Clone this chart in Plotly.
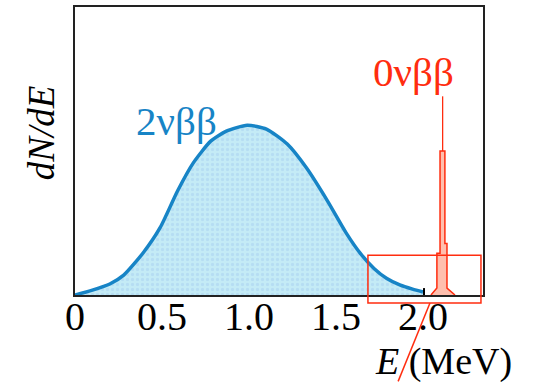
import plotly.graph_objects as go

# 2vbb continuous spectrum (E in MeV, dN/dE normalised to peak = 1)
e_2v = [0.0, 0.10, 0.20, 0.28, 0.39, 0.49, 0.59, 0.68, 0.78, 0.87, 0.99, 1.10, 1.22,
        1.33, 1.45, 1.56, 1.64, 1.72, 1.79, 1.87, 1.94, 2.00]
n_2v = [0.0, 0.029, 0.065, 0.117, 0.246, 0.398, 0.614, 0.778, 0.906, 0.965, 1.0, 0.977,
        0.889, 0.749, 0.556, 0.363, 0.245, 0.155, 0.099, 0.058, 0.035, 0.018]

# 0vbb peak outline
e_0v = [2.046, 2.063, 2.080, 2.080, 2.098, 2.098, 2.126, 2.126, 2.138, 2.138,
        2.161, 2.184]
n_0v = [0.0, 0.018, 0.041, 0.246, 0.246, 0.848, 0.848, 0.304, 0.304, 0.041,
        0.018, 0.0]
# thin spike on top of peak
e_spike = [2.113, 2.113]
n_spike = [0.848, 1.170]

q_value = 2.006
tick_vals = [0, 0.5, 1.0, 1.5, 2.0]
tick_text = ["0", "0.5", "1.0", "1.5", "2.0"]

BLUE = "#1784c6"
RED = "#ff2d0f"
SERIF = "Liberation Serif"

fig = go.Figure()
fig.add_trace(go.Scatter(
    x=e_2v, y=n_2v, mode="lines", line=dict(color=BLUE, width=3.5, shape="spline", smoothing=0.6),
    fill="tozeroy", fillcolor="#c4e9f6",
    fillpattern=dict(shape=".", bgcolor="#c4ebf6", fgcolor="#a8d0f0", size=5, solidity=0.35),
    hoverinfo="skip", showlegend=False))
fig.add_trace(go.Scatter(
    x=e_0v, y=n_0v, mode="lines", line=dict(color=RED, width=1.5),
    fill="toself", fillcolor="#ffbfae", hoverinfo="skip", showlegend=False))
fig.add_trace(go.Scatter(
    x=e_spike, y=n_spike, mode="lines", line=dict(color=RED, width=1.3),
    hoverinfo="skip", showlegend=False))

fig.add_annotation(x=0.586, y=1.023, text="2νββ", showarrow=False, xanchor="center", yanchor="middle",
                   font=dict(family=SERIF, size=41, color=BLUE))
fig.add_annotation(x=1.948, y=1.316, text="0νββ", showarrow=False, xanchor="center", yanchor="middle",
                   font=dict(family=SERIF, size=41, color=RED))
fig.add_annotation(x=-0.083, y=0.562, xref="paper", yref="paper", text="<i>dN/dE</i>",
                   textangle=-90, showarrow=False, xanchor="center", yanchor="middle",
                   font=dict(family=SERIF, size=37, color="black"))
fig.add_annotation(x=0.902, y=-0.232, xref="paper", yref="paper", text="<i>E</i> (MeV)",
                   showarrow=False, xanchor="center", yanchor="middle",
                   font=dict(family=SERIF, size=38, color="black"))

# Q-value tick
fig.add_shape(type="line", x0=q_value, x1=q_value, xref="x", y0=0, y1=0.024, yref="paper",
              line=dict(color="black", width=2))
# zoom box + pointer line
fig.add_shape(type="rect", xref="paper", yref="paper", x0=0.718, x1=0.995, y0=-0.0276, y1=0.138,
              line=dict(color=RED, width=1.5))
fig.add_shape(type="line", xref="paper", yref="paper", x0=0.870, y0=-0.0276, x1=0.792, y1=-0.30,
              line=dict(color=RED, width=1.5))

fig.update_layout(
    width=536, height=382, margin=dict(l=75, r=53, t=5, b=87),
    plot_bgcolor="white", paper_bgcolor="white",
    xaxis=dict(range=[0, 2.345], tickvals=tick_vals, ticktext=tick_text, showgrid=False,
               zeroline=False, showline=True, mirror=True, linecolor="#222", linewidth=2,
               ticks="", ticklabelstandoff=-15, tickfont=dict(family=SERIF, size=40, color="black")),
    yaxis=dict(range=[0, 1.696], showticklabels=False, showgrid=False, zeroline=False,
               showline=True, mirror=True, linecolor="#222", linewidth=2, ticks=""),
)
fig.write_html("out.html")
